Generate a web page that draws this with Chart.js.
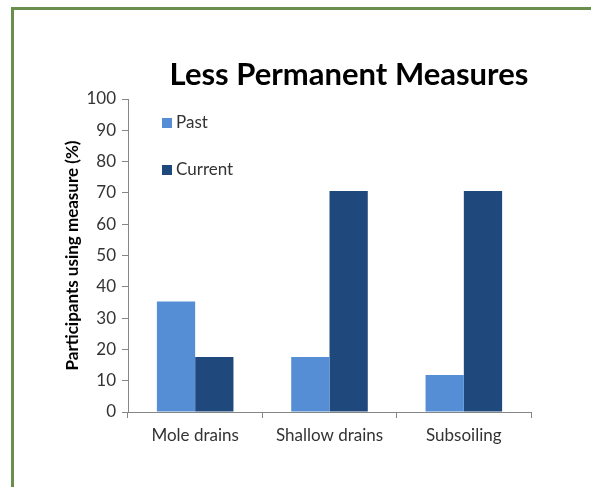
<!DOCTYPE html>
<html>
<head>
<meta charset="utf-8">
<script src="https://cdn.jsdelivr.net/npm/chart.js@4"></script>
<style>
  html, body { margin: 0; padding: 0; background: #fff; }
  #wrap { position: relative; width: 591px; height: 487px; overflow: hidden; }
  #frame {
    position: absolute; left: 11px; top: 7px; width: 600px; height: 500px;
    border-top: 3px solid #6a8f4c; border-left: 3px solid #6a8f4c;
    pointer-events: none;
  }
  canvas { position: absolute; left: 0; top: 0; }
</style>
</head>
<body>
<div id="wrap">
  <canvas id="chart" width="591" height="487"></canvas>
  <div id="frame"></div>
</div>
<script>
// --- data ---
const categories = ['Mole drains', 'Shallow drains', 'Subsoiling'];
const pastValues = [35.3, 17.6, 11.8];
const currentValues = [17.6, 70.6, 70.6];
const yTicks = [0, 10, 20, 30, 40, 50, 60, 70, 80, 90, 100];
const chartTitle = 'Less Permanent Measures';

const fontFamily = "Lato, 'Open Sans', sans-serif";
const axisColor = '#868686';

// title sits off-centre (over the plot), so draw it here
const offsetTitle = {
    id: 'offsetTitle',
    afterDraw(chart) {
        const ctx = chart.ctx;
        ctx.save();
        ctx.font = 'bold 31px ' + fontFamily;
        ctx.fillStyle = '#000';
        ctx.textAlign = 'center';
        ctx.textBaseline = 'middle';
        ctx.fillText(chartTitle, 349, 75);
        ctx.restore();
    }
};

// legend drawn inside the plot, top left
const innerLegend = {
    id: 'innerLegend',
    afterDraw(chart) {
        const ctx = chart.ctx;
        const area = chart.chartArea;
        ctx.save();
        ctx.font = '17px ' + fontFamily;
        ctx.textBaseline = 'middle';
        chart.data.datasets.forEach((ds, i) => {
            const y = area.top + 24 + i * 47;
            const x = area.left + 34;
            ctx.fillStyle = ds.backgroundColor;
            ctx.fillRect(x, y - 5, 10, 10);
            ctx.fillStyle = '#333';
            ctx.fillText(ds.label, x + 14, y);
        });
        ctx.restore();
    }
};

new Chart(document.getElementById('chart').getContext('2d'), {
    type: 'bar',
    data: {
        labels: categories,
        datasets: [{
            label: 'Past',
            data: pastValues,
            backgroundColor: '#558ed5'
        }, {
            label: 'Current',
            data: currentValues,
            backgroundColor: '#1f497d'
        }]
    },
    options: {
        responsive: false,
        animation: false,
        layout: { padding: { left: 56, right: 60, top: 99, bottom: 0 } },
        datasets: {
            bar: { barPercentage: 1, categoryPercentage: 0.57 }
        },
        scales: {
            x: {
                grid: {
                    drawOnChartArea: false,
                    offset: true,
                    tickLength: 6,
                    color: axisColor
                },
                border: { color: axisColor },
                ticks: {
                    color: '#333',
                    font: { family: fontFamily, size: 17 },
                    padding: 7
                },
                afterFit(scale) { scale.height = 75; }
            },
            y: {
                min: 0,
                max: 100,
                afterBuildTicks(scale) {
                    scale.ticks = yTicks.map(v => ({ value: v }));
                },
                grid: {
                    drawOnChartArea: false,
                    tickLength: 6,
                    color: axisColor
                },
                border: { color: axisColor },
                ticks: {
                    color: '#333',
                    font: { family: fontFamily, size: 17 },
                    padding: 6
                },
                title: {
                    display: true,
                    text: 'Participants using measure (%)',
                    color: '#000',
                    font: { family: fontFamily, size: 17, weight: 'bold' },
                    padding: { top: 6, bottom: 0 }
                },
                afterFit(scale) { scale.width = 72; }
            }
        },
        plugins: {
            legend: { display: false },
            tooltip: { enabled: false },
            title: { display: false }
        }
    },
    plugins: [offsetTitle, innerLegend]
});
</script>
</body>
</html>
